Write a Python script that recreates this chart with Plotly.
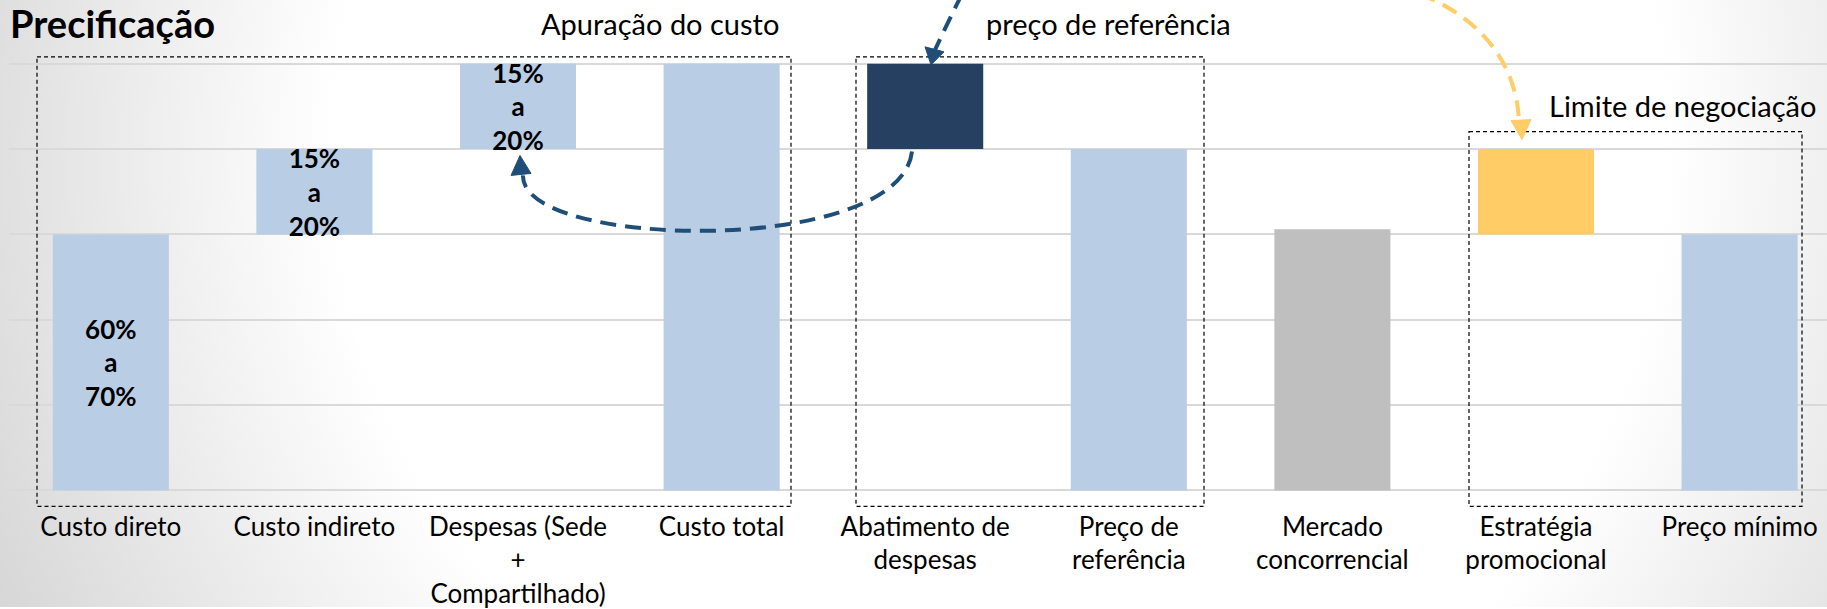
import plotly.graph_objects as go

# ---------------- data ----------------
categories = [
    "Custo direto",
    "Custo indireto",
    "Despesas (Sede<br>+<br>Compartilhado)",
    "Custo total",
    "Abatimento de<br>despesas",
    "Preço de<br>referência",
    "Mercado<br>concorrencial",
    "Estratégia<br>promocional",
    "Preço mínimo",
]
bar_base = [0, 3, 4, 0, 4, 0, 0, 3, 0]
bar_height = [3, 1, 1, 5, 1, 4, 3.06, 1, 3]
bar_labels = ["60%<br>a<br>70%", "15%<br>a<br>20%", "15%<br>a<br>20%", "", "", "", "", "", ""]

LIGHT = "#B9CDE5"
NAVY = "#254061"
GREY = "#BFBFBF"
GOLD = "#FFCC66"
bar_colors = [LIGHT, LIGHT, LIGHT, LIGHT, NAVY, LIGHT, GREY, GOLD, LIGHT]

# ---------------- geometry ----------------
W, H = 1827, 609
PX_LEFT = 9          # left edge of the category band area
BAND = 203.6         # pixels per category
Y0_PX = 492          # pixel row of value 0
UNIT_PX = 85.6       # pixels per value unit
YPAD = 0.05

FONT = "Lato, 'Open Sans', sans-serif"
ARROW_BLUE = "#1F4E79"

x_pos = list(range(len(categories)))

fig = go.Figure()

# background radial gradient (slide background) on full-figure pixel axes
cx, cy, R = 1000, 150, 1150
fig.add_trace(go.Scatter(
    x=[cx - R, cx + R, cx + R, cx - R, cx - R],
    y=[cy - R, cy - R, cy + R, cy + R, cy - R],
    mode="lines", fill="toself", line=dict(width=0),
    fillgradient=dict(type="radial",
                      colorscale=[[0, "#ffffff"], [0.58, "#ffffff"], [1, "#d2d2d2"]]),
    hoverinfo="skip", showlegend=False, xaxis="x", yaxis="y",
))

fig.add_trace(go.Bar(
    x=x_pos, y=bar_height, base=bar_base,
    marker=dict(color=bar_colors, line=dict(width=0)),
    width=0.57,
    text=bar_labels, textposition="inside", insidetextanchor="middle",
    constraintext="none", textangle=0,
    textfont=dict(family=FONT, size=26, color="black", weight="bold"),
    hoverinfo="skip", showlegend=False, xaxis="x2", yaxis="y2",
))

fig.update_layout(
    width=W, height=H,
    margin=dict(l=0, r=0, t=0, b=0),
    paper_bgcolor="white", plot_bgcolor="rgba(0,0,0,0)",
    showlegend=False,
    font=dict(family=FONT, color="black"),
    xaxis=dict(domain=[0, 1], range=[0, W], visible=False, fixedrange=True),
    yaxis=dict(domain=[0, 1], range=[H, 0], visible=False, fixedrange=True),
    xaxis2=dict(
        domain=[PX_LEFT / W, 1], anchor="y2",
        range=[-0.5, (W - PX_LEFT) / BAND - 0.5],
        tickmode="array", tickvals=x_pos, ticktext=categories,
        showgrid=False, zeroline=False, showline=False, ticks="",
        tickfont=dict(family=FONT, size=26, color="black"),
        ticklabelstandoff=14,
    ),
    yaxis2=dict(
        domain=[(H - (Y0_PX + YPAD * UNIT_PX)) / H, 1], anchor="x2",
        range=[-YPAD, Y0_PX / UNIT_PX],
        tickmode="linear", tick0=0, dtick=1,
        showgrid=True, gridcolor="#D9D9D9", gridwidth=2,
        zeroline=False, showline=False, showticklabels=False, ticks="",
    ),
)

# ---------------- decorations (pixel coordinates on the full-figure axes) ----------------
def box(x0, y0, x1, y1):
    fig.add_shape(type="rect", xref="x", yref="y", x0=x0, y0=y0, x1=x1, y1=y1,
                  line=dict(color="black", width=1.2, dash="4px,3px"),
                  fillcolor="rgba(0,0,0,0)", layer="above")

box(37, 57, 791, 508)
box(856, 57, 1204, 508)
box(1469, 132, 1802, 508)

def curve(path, color):
    fig.add_shape(type="path", xref="x", yref="y", path=path,
                  line=dict(color=color, width=4, dash="16px,9px"), layer="above")

def head(pts, color):
    p = "M " + " L ".join(f"{x},{y}" for x, y in pts) + " Z"
    fig.add_shape(type="path", xref="x", yref="y", path=p,
                  fillcolor=color, line=dict(color=color, width=1), layer="above")

# navy curved arrow: Abatimento -> Despesas
curve("M 912,152 C 900,258 520,250 523,176", ARROW_BLUE)
head([(520, 156), (511, 176), (531, 174)], ARROW_BLUE)
# navy arrow from above into Abatimento
curve("M 962,-6 Q 948,22 935,50", ARROW_BLUE)
head([(931, 65), (925, 47), (944, 52)], ARROW_BLUE)
# gold arrow into Estratégia promocional
curve("M 1420,-6 C 1480,18 1516,62 1519,121", GOLD)
head([(1522, 140), (1511, 121), (1531, 120)], GOLD)

# ---------------- texts ----------------
def text(x, y, s, size, bold=False, xanchor="center"):
    fig.add_annotation(xref="x", yref="y", x=x, y=y, text=s, showarrow=False,
                       xanchor=xanchor, yanchor="middle",
                       font=dict(family=FONT, size=size, color="black",
                                 weight="bold" if bold else "normal"))

text(8, 23, "Precificação", 38, bold=True, xanchor="left")
text(660, 24, "Apuração do custo", 29)
text(1108, -14, "Formação do", 29)
text(1108, 24, "preço de referência", 29)
text(1682, 106, "Limite de negociação", 29)

fig.write_html("out.html", config={"displayModeBar": False},
               post_script="document.body.style.margin='0';")
